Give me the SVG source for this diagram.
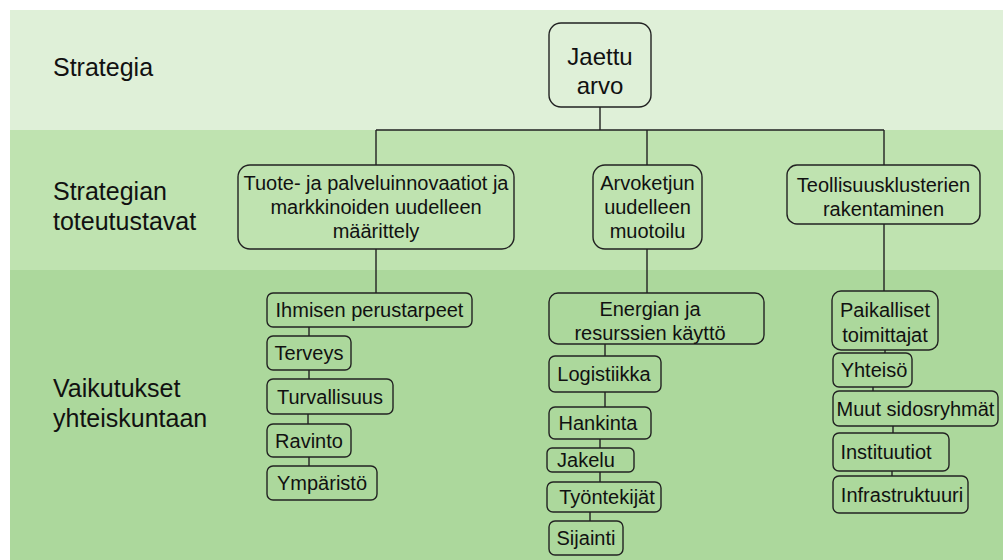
<svg xmlns="http://www.w3.org/2000/svg" width="1003" height="560" viewBox="0 0 1003 560">
<style>
.band1{fill:#dff0d8}
.band2{fill:#bfe3b0}
.band3{fill:#acd89c}
.lbl{font-family:"Liberation Sans",Arial,sans-serif;font-size:25px;fill:#111}
.box{fill:none;stroke:#222;stroke-width:1.4}
.t{font-family:"Liberation Sans",Arial,sans-serif;font-size:20px;fill:#111;text-anchor:middle}
.big{font-size:24px}
.con{stroke:#222;stroke-width:1.4;fill:none}
</style>
<rect x="0" y="0" width="1003" height="560" fill="#ffffff"/>
<g id="bands">
<rect class="band1" x="10" y="10" width="993" height="120"/>
<rect class="band2" x="10" y="130" width="993" height="140"/>
<rect class="band3" x="10" y="270" width="993" height="290"/>
</g>
<g id="lane-labels">
<text class="lbl" x="53" y="76">Strategia</text>
<text class="lbl" x="53" y="200">Strategian</text>
<text class="lbl" x="53" y="230">toteutustavat</text>
<text class="lbl" x="53" y="397">Vaikutukset</text>
<text class="lbl" x="53" y="427">yhteiskuntaan</text>
</g>
<g id="connectors">
<path class="con" d="M600 107V130M376 130H884M376 130V165M647 130V165M884 130V165"/>
<path class="con" d="M376 249V293M647 249V293M884 224V291"/>
<path class="con" d="M309 327V336M309 370V379M308 414V424M309 457V466"/>
<path class="con" d="M605 344V356M605 392V407M600 439V448M600 472V482M590 512V521"/>
<path class="con" d="M885 350V353M873 387V391M893 426V433M892 471V476"/>
</g>
<g id="jaettu-arvo">
<rect class="box" x="549" y="23" width="102" height="84" rx="12"/>
<text class="t big" x="600" y="65">Jaettu</text>
<text class="t big" x="600" y="94">arvo</text>
</g>
<g id="tuote">
<rect class="box" x="238" y="165" width="276" height="84" rx="12"/>
<text class="t" x="376" y="190">Tuote- ja palveluinnovaatiot ja</text>
<text class="t" x="376" y="214">markkinoiden uudelleen</text>
<text class="t" x="376" y="238">määrittely</text>
</g>
<g id="arvoketjun">
<rect class="box" x="593" y="165" width="109" height="84" rx="12"/>
<text class="t" x="647.5" y="190">Arvoketjun</text>
<text class="t" x="647.5" y="214">uudelleen</text>
<text class="t" x="647.5" y="238">muotoilu</text>
</g>
<g id="teollisuus">
<rect class="box" x="787" y="165" width="193" height="59" rx="10"/>
<text class="t" x="883.5" y="192">Teollisuusklusterien</text>
<text class="t" x="883.5" y="216">rakentaminen</text>
</g>
<g id="ihmisen">
<rect class="box" x="267" y="293" width="205" height="34" rx="6"/>
<text class="t" x="369.5" y="317">Ihmisen perustarpeet</text>
</g>
<g id="terveys">
<rect class="box" x="267" y="336" width="84" height="34" rx="6"/>
<text class="t" x="309" y="360">Terveys</text>
</g>
<g id="turvallisuus">
<rect class="box" x="267" y="379" width="126" height="35" rx="6"/>
<text class="t" x="330" y="403.5">Turvallisuus</text>
</g>
<g id="ravinto">
<rect class="box" x="267" y="424" width="84" height="33" rx="6"/>
<text class="t" x="309" y="447.5">Ravinto</text>
</g>
<g id="ymparisto">
<rect class="box" x="267" y="466" width="110" height="34" rx="6"/>
<text class="t" x="322" y="490">Ympäristö</text>
</g>
<g id="energian">
<rect class="box" x="549" y="293" width="215" height="51" rx="9"/>
<text class="t" x="650" y="316">Energian ja</text>
<text class="t" x="650" y="340">resurssien käyttö</text>
</g>
<g id="logistiikka">
<rect class="box" x="549" y="356" width="112" height="36" rx="6"/>
<text class="t" x="604" y="381">Logistiikka</text>
</g>
<g id="hankinta">
<rect class="box" x="549" y="407" width="102" height="32" rx="6"/>
<text class="t" x="598" y="430">Hankinta</text>
</g>
<g id="jakelu">
<rect class="box" x="547" y="448" width="87" height="24" rx="5"/>
<text class="t" x="586" y="467">Jakelu</text>
</g>
<g id="tyontekijat">
<rect class="box" x="547" y="482" width="114" height="30" rx="6"/>
<text class="t" x="607" y="504">Työntekijät</text>
</g>
<g id="sijainti">
<rect class="box" x="549" y="521" width="74" height="34" rx="6"/>
<text class="t" x="586" y="545">Sijainti</text>
</g>
<g id="paikalliset">
<rect class="box" x="832" y="291" width="106" height="59" rx="9"/>
<text class="t" x="885" y="317">Paikalliset</text>
<text class="t" x="885" y="342">toimittajat</text>
</g>
<g id="yhteiso">
<rect class="box" x="833" y="353" width="79" height="34" rx="6"/>
<text class="t" x="874" y="377">Yhteisö</text>
</g>
<g id="muut">
<rect class="box" x="833" y="391" width="165" height="35" rx="6"/>
<text class="t" x="915.5" y="415.5">Muut sidosryhmät</text>
</g>
<g id="instituutiot">
<rect class="box" x="833" y="433" width="116" height="38" rx="6"/>
<text class="t" x="886" y="459">Instituutiot</text>
</g>
<g id="infrastruktuuri">
<rect class="box" x="833" y="476" width="135" height="37" rx="6"/>
<text class="t" x="902" y="501.5">Infrastruktuuri</text>
</g>
</svg>
